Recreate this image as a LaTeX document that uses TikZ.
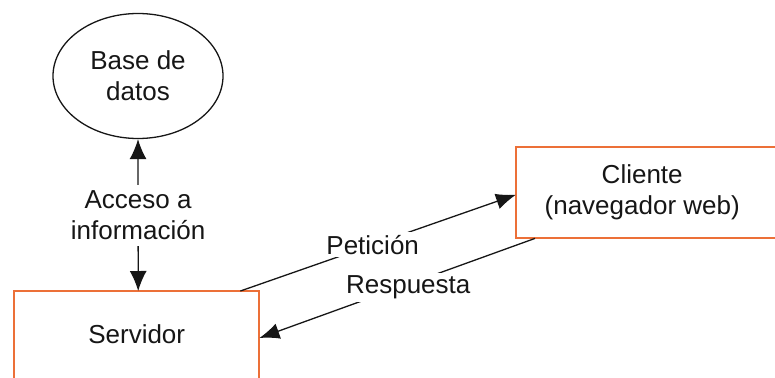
\documentclass[tikz,border=0pt]{standalone}
\usepackage{fontspec}
\setmainfont{Liberation Sans}
\usetikzlibrary{shapes.geometric,arrows.meta,calc}
\definecolor{boxorange}{RGB}{236,112,56}
\definecolor{ink}{RGB}{22,22,22}
\begin{document}
\begin{tikzpicture}[x=1pt,y=-1pt,
  every node/.style={font=\fontsize{26}{31}\selectfont, text=ink, align=center},
  conn/.style={draw=ink, line width=1.3pt},
  tip/.style={-{Latex[length=20pt,width=16pt]}},
  bothtips/.style={{Latex[length=20pt,width=17pt]}-{Latex[length=20pt,width=17pt]}},
  frame/.style={draw=boxorange, line width=2pt},
  lbl/.style={fill=white, inner xsep=12pt, inner ysep=3pt}]
  \useasboundingbox (0,0) rectangle (775,377);
  \clip (0,0) rectangle (775,377);

  % data store
  \node[ellipse, draw=ink, line width=1.3pt, minimum width=170pt, minimum height=125pt,
        inner sep=0pt] (bd) at (138,76) {Base de\\datos};

  % server and client boxes (open on the cut-off side)
  \node[minimum width=245pt, minimum height=86pt, anchor=north west, inner sep=0pt]
        (servidor) at (14,291) {Servidor};
  \draw[frame] ([yshift=-40pt]servidor.south west) -- (servidor.north west)
               -- (servidor.north east) -- ([yshift=-40pt]servidor.south east);

  \node[minimum width=252pt, minimum height=91pt, anchor=north west, inner sep=0pt]
        (cliente) at (516,147) {Cliente\\(navegador web)};
  \draw[frame] ([xshift=40pt]cliente.north east) -- (cliente.north west)
               -- (cliente.south west) -- ([xshift=40pt]cliente.south east);

  % connectors
  \draw[conn, bothtips] ([xshift=1.5pt]servidor.north) -- node[lbl, inner ysep=6pt, inner xsep=14pt] {Acceso a\\información} (bd.south);
  \draw[conn, tip] ([xshift=-19pt]servidor.north east) -- node[lbl, pos=0.48] {Petición} ([yshift=-2pt]cliente.west);
  \draw[conn, tip] ([xshift=19pt]cliente.south west) -- node[lbl, pos=0.46, yshift=-3pt] {Respuesta} ([yshift=-47pt]servidor.north east);
\end{tikzpicture}
\end{document}
